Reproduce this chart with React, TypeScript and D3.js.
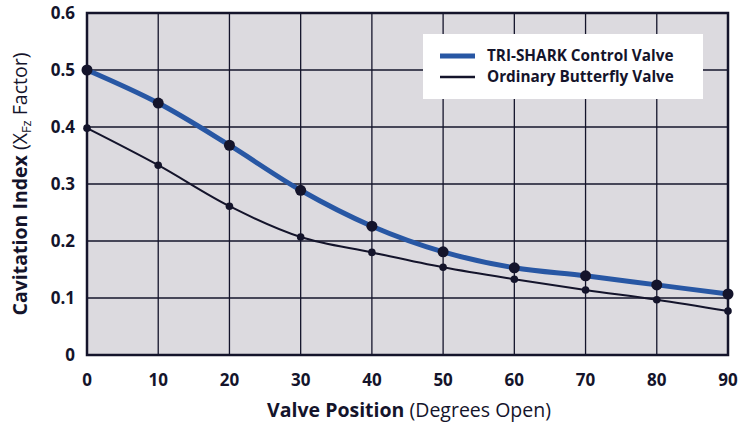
import React, { useEffect, useRef } from 'react';
import * as d3 from 'd3';

const positions = [0, 10, 20, 30, 40, 50, 60, 70, 80, 90];
const triShark = [0.5, 0.442, 0.368, 0.289, 0.226, 0.181, 0.153, 0.139, 0.123, 0.107];
const butterfly = [0.398, 0.333, 0.261, 0.207, 0.18, 0.154, 0.133, 0.114, 0.097, 0.077];
const yTicks = [0, 0.1, 0.2, 0.3, 0.4, 0.5, 0.6];
const xTicks = [0, 10, 20, 30, 40, 50, 60, 70, 80, 90];
const seriesNames = ['TRI-SHARK Control Valve', 'Ordinary Butterfly Valve'];

const ink = '#14142b';
const blue = '#2857a4';
const font = '"Open Sans", "Noto Sans", sans-serif';

const App = () => {
  const svgRef = useRef<SVGSVGElement>(null);

  useEffect(() => {
    const svg = d3.select(svgRef.current);
    svg.selectAll('*').remove();

    const width = 755;
    const height = 428;
    const margin = { top: 13, right: 27, bottom: 73, left: 87 };

    const x = d3.scaleLinear()
      .domain([0, 90])
      .range([margin.left, width - margin.right]);
    const y = d3.scaleLinear()
      .domain([0, 0.6])
      .range([height - margin.bottom, margin.top]);

    const g = svg.append('g');

    // plot background
    g.append('rect')
      .attr('x', x(0)).attr('y', y(0.6))
      .attr('width', x(90) - x(0)).attr('height', y(0) - y(0.6))
      .attr('fill', '#dcdadf');

    // grid
    g.selectAll('.vgrid').data(xTicks.slice(1, -1)).enter()
      .append('line')
      .attr('x1', d => x(d)).attr('x2', d => x(d))
      .attr('y1', y(0.6)).attr('y2', y(0))
      .attr('stroke', ink).attr('stroke-width', 1.3);
    g.selectAll('.hgrid').data(yTicks.slice(1, -1)).enter()
      .append('line')
      .attr('x1', x(0)).attr('x2', x(90))
      .attr('y1', d => y(d)).attr('y2', d => y(d))
      .attr('stroke', ink).attr('stroke-width', 1.3);

    // frame
    g.append('rect')
      .attr('x', x(0)).attr('y', y(0.6))
      .attr('width', x(90) - x(0)).attr('height', y(0) - y(0.6))
      .attr('fill', 'none').attr('stroke', ink).attr('stroke-width', 2.5);

    // tick labels
    g.selectAll('.ytick').data(yTicks).enter()
      .append('text')
      .attr('x', x(0) - 12).attr('y', d => y(d))
      .attr('dy', '0.35em')
      .attr('text-anchor', 'end')
      .style('font', `bold 17px ${font}`)
      .attr('fill', ink)
      .text(d => (d === 0 ? '0' : d3.format('.1f')(d)));

    g.selectAll('.xtick').data(xTicks).enter()
      .append('text')
      .attr('x', d => x(d)).attr('y', y(0) + 31)
      .attr('text-anchor', 'middle')
      .style('font', `bold 17px ${font}`)
      .attr('fill', ink)
      .text(d => d);

    // axis titles
    const xt = g.append('text')
      .attr('x', 409).attr('y', 417)
      .attr('text-anchor', 'middle')
      .style('font-family', font).style('font-size', '19.5px')
      .attr('fill', ink);
    xt.append('tspan').style('font-weight', 'bold').text('Valve Position');
    xt.append('tspan').text(' (Degrees Open)');

    const yt = g.append('text')
      .attr('transform', `translate(27, ${(y(0) + y(0.6)) / 2}) rotate(-90)`)
      .attr('text-anchor', 'middle')
      .style('font-family', font).style('font-size', '19.5px')
      .attr('fill', ink);
    yt.append('tspan').style('font-weight', 'bold').text('Cavitation Index');
    yt.append('tspan').text(' (X');
    yt.append('tspan').attr('dy', 4).style('font-size', '13px').text('Fz');
    yt.append('tspan').attr('dy', -4).text(' Factor)');

    // lines
    const line = d3.line<number>()
      .x((_, i) => x(positions[i]))
      .y(d => y(d))
      .curve(d3.curveCatmullRom.alpha(0.5));

    g.append('path').datum(butterfly)
      .attr('d', line)
      .attr('fill', 'none').attr('stroke', ink).attr('stroke-width', 2);
    g.selectAll('.bdot').data(butterfly).enter()
      .append('circle')
      .attr('cx', (_, i) => x(positions[i])).attr('cy', d => y(d))
      .attr('r', 3.8).attr('fill', ink);

    g.append('path').datum(triShark)
      .attr('d', line)
      .attr('fill', 'none').attr('stroke', blue).attr('stroke-width', 5);
    g.selectAll('.tdot').data(triShark).enter()
      .append('circle')
      .attr('cx', (_, i) => x(positions[i])).attr('cy', d => y(d))
      .attr('r', 5.5).attr('fill', ink);

    // legend
    const lg = g.append('g').attr('transform', 'translate(423, 34)');
    lg.append('rect')
      .attr('width', 280).attr('height', 65)
      .attr('fill', '#ffffff');
    seriesNames.forEach((name, i) => {
      const ly = 22 + i * 21;
      lg.append('line')
        .attr('x1', 17).attr('x2', 52)
        .attr('y1', ly).attr('y2', ly)
        .attr('stroke', i === 0 ? blue : ink)
        .attr('stroke-width', i === 0 ? 5 : 2.5);
      lg.append('text')
        .attr('x', 64).attr('y', ly)
        .attr('dy', '0.35em')
        .style('font', `bold 15.3px ${font}`)
        .attr('fill', ink)
        .text(name);
    });
  }, []);

  return <svg ref={svgRef} width={755} height={428} style={{ position: 'absolute', left: 0, top: 0 }} />;
};

export default App;
